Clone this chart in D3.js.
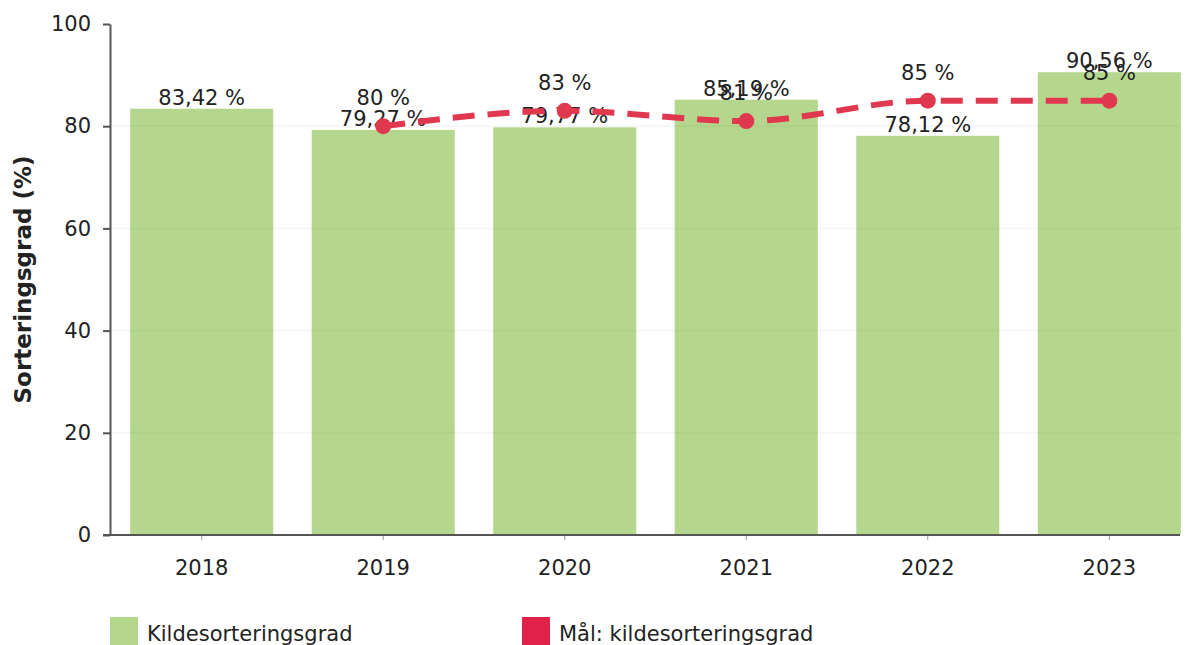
<!DOCTYPE html>
<html>
<head>
<meta charset="utf-8">
<script src="https://cdn.jsdelivr.net/npm/d3@7"></script>
<style>
  body { margin: 0; background: #fff; }
  svg text { font-family: "DejaVu Sans", Verdana, sans-serif; fill: #222; }
</style>
</head>
<body>
<div id="chart"></div>
<script>
// Data
const years = ["2018", "2019", "2020", "2021", "2022", "2023"];
const sortering = [83.42, 79.27, 79.77, 85.19, 78.12, 90.56];
const malYears = ["2019", "2020", "2021", "2022", "2023"];
const malValues = [80, 83, 81, 85, 85];
const yTicks = [0, 20, 40, 60, 80, 100];
const legendLabels = ["Kildesorteringsgrad", "Mål: kildesorteringsgrad"];

const width = 1188, height = 645;
const barColor = "#b4d78d";
const malColor = "#e0384f";

const fmt = v => String(v).replace(".", ",") + " %";

const svg = d3.select("#chart").append("svg")
  .attr("width", width)
  .attr("height", height);

// Scales
const x = d3.scaleBand()
  .domain(years)
  .range([112, 1199])
  .paddingInner(0.212)
  .paddingOuter(0.1);

const y = d3.scaleLinear()
  .domain([0, 100])
  .range([535, 24]);

// Bars
svg.selectAll(".bar")
  .data(years)
  .enter().append("rect")
  .attr("class", "bar")
  .attr("x", d => x(d))
  .attr("width", x.bandwidth())
  .attr("y", (d, i) => y(sortering[i]))
  .attr("height", (d, i) => y(0) - y(sortering[i]))
  .attr("fill", barColor);

// faint grid lines over bars
svg.append("g")
  .selectAll("line")
  .data(yTicks.slice(1, -1))
  .enter().append("line")
  .attr("x1", 110).attr("x2", 1180)
  .attr("y1", d => y(d)).attr("y2", d => y(d))
  .attr("stroke", "#000")
  .attr("stroke-opacity", 0.03)
  .attr("stroke-width", 2);

// Y axis
const yAxis = svg.append("g")
  .attr("transform", "translate(110,0)")
  .call(d3.axisLeft(y).tickValues(yTicks).tickSize(7).tickSizeOuter(0).tickPadding(12));
yAxis.select(".domain").attr("stroke", "#555").attr("stroke-width", 2);
yAxis.selectAll(".tick line").attr("stroke", "#555").attr("stroke-width", 2);
yAxis.selectAll(".tick text").attr("font-size", 21).attr("fill", "#222")
  .style("font-family", "DejaVu Sans, sans-serif");

// X axis
const xAxis = svg.append("g")
  .attr("transform", `translate(0,${y(0)})`)
  .call(d3.axisBottom(x).tickSize(5).tickSizeOuter(0).tickPadding(20));
xAxis.select(".domain").remove();
xAxis.selectAll(".tick line").attr("stroke", "#999").attr("stroke-width", 1);
xAxis.selectAll(".tick text").attr("font-size", 21).attr("fill", "#222")
  .style("font-family", "DejaVu Sans, sans-serif");
svg.append("line")
  .attr("x1", 103).attr("x2", 1180)
  .attr("y1", y(0)).attr("y2", y(0))
  .attr("stroke", "#555").attr("stroke-width", 2);

// Y axis title
svg.append("text")
  .attr("transform", `translate(31,${(y(0) + y(100)) / 2}) rotate(-90)`)
  .attr("text-anchor", "middle")
  .attr("font-size", 23)
  .attr("font-weight", "bold")
  .text("Sorteringsgrad (%)");

// Bar labels
svg.selectAll(".bar-label")
  .data(years)
  .enter().append("text")
  .attr("class", "bar-label")
  .attr("x", d => x(d) + x.bandwidth() / 2)
  .attr("y", (d, i) => y(sortering[i]) - 4)
  .attr("text-anchor", "middle")
  .attr("font-size", 21)
  .text((d, i) => fmt(sortering[i]));

// Target line
const cx = d => x(d) + x.bandwidth() / 2;
const line = d3.line()
  .x(d => cx(d))
  .y((d, i) => y(malValues[i]))
  .curve(d3.curveMonotoneX);

svg.append("path")
  .datum(malYears)
  .attr("d", line)
  .attr("fill", "none")
  .attr("stroke", malColor)
  .attr("stroke-width", 6)
  .attr("stroke-dasharray", "22,13");

svg.selectAll(".mal-dot")
  .data(malYears)
  .enter().append("circle")
  .attr("class", "mal-dot")
  .attr("cx", d => cx(d))
  .attr("cy", (d, i) => y(malValues[i]))
  .attr("r", 8)
  .attr("fill", malColor);

svg.selectAll(".mal-label")
  .data(malYears)
  .enter().append("text")
  .attr("class", "mal-label")
  .attr("x", d => cx(d))
  .attr("y", (d, i) => y(malValues[i]) - 21)
  .attr("text-anchor", "middle")
  .attr("font-size", 21)
  .text((d, i) => fmt(malValues[i]));

// Legend
const legend = svg.append("g");
const legendX = [110, 522];
const legendColors = [barColor, "#e0224a"];
legendLabels.forEach((lbl, i) => {
  legend.append("rect")
    .attr("x", legendX[i]).attr("y", 617)
    .attr("width", 28).attr("height", 30)
    .attr("fill", legendColors[i]);
  legend.append("text")
    .attr("x", legendX[i] + 37).attr("y", 641)
    .attr("font-size", 21)
    .text(lbl);
});
</script>
</body>
</html>
